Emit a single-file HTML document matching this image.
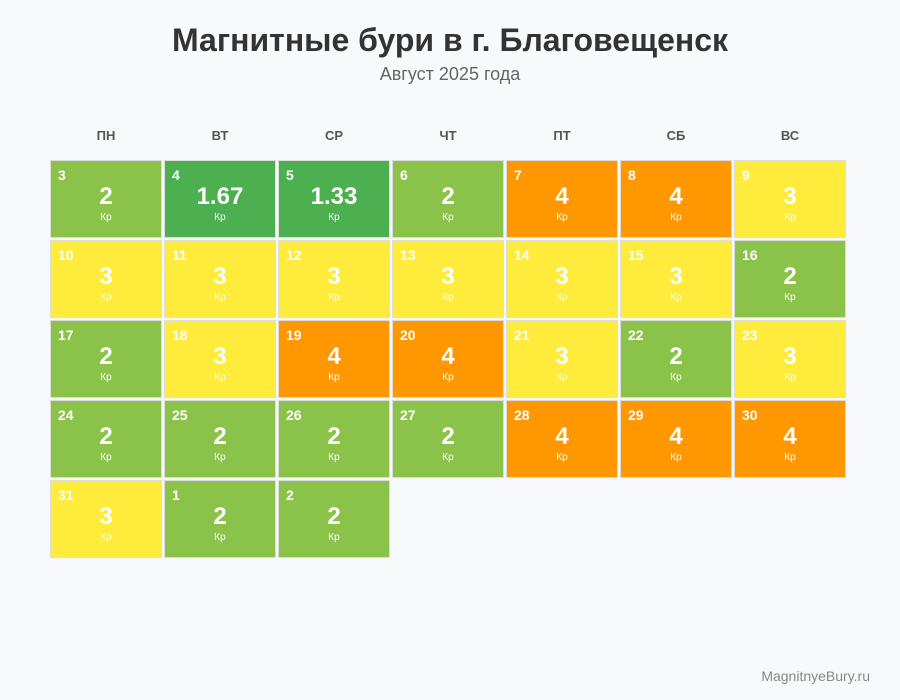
<!DOCTYPE html>
<html><head><meta charset="utf-8"><style>
body{margin:0;width:900px;height:700px;background:#f8f9fb;font-family:"Liberation Sans",sans-serif;position:relative;overflow:hidden}
.t{position:absolute;left:0;width:900px;text-align:center}
.h{position:absolute;top:128px;width:112px;text-align:center;font-size:13px;font-weight:bold;color:#555}
.c{position:absolute;width:110px;height:76px;border:1px solid #ddd;color:#fff}
.d{position:absolute;left:7px;top:6px;font-size:14px;font-weight:bold}
.v{position:absolute;left:0;right:0;top:22px;text-align:center;font-size:24px;font-weight:bold}
.k{position:absolute;left:0;right:0;top:51px;text-align:center;font-size:10px}
.g{background:#8bc34a}.G{background:#4caf50}.o{background:#ff9800}.y{background:#ffeb3b}
</style></head><body>
<div class="t" style="top:22px;font-size:32px;font-weight:bold;color:#333">Магнитные бури в г. Благовещенск</div>
<div class="t" style="top:64px;font-size:18px;color:#666">Август 2025 года</div>
<div id="hd"></div><div id="g"></div>
<div style="position:absolute;right:30px;top:668px;font-size:14px;color:#888">MagnitnyeBury.ru</div>
<script>
var hs=["ПН","ВТ","СР","ЧТ","ПТ","СБ","ВС"],h="";
hs.forEach(function(s,i){h+='<div class="h" style="left:'+(50+i*114)+'px">'+s+'</div>'});
document.getElementById("hd").innerHTML=h;
var d=[[3,"2","g"],[4,"1.67","G"],[5,"1.33","G"],[6,"2","g"],[7,"4","o"],[8,"4","o"],[9,"3","y"],
[10,"3","y"],[11,"3","y"],[12,"3","y"],[13,"3","y"],[14,"3","y"],[15,"3","y"],[16,"2","g"],
[17,"2","g"],[18,"3","y"],[19,"4","o"],[20,"4","o"],[21,"3","y"],[22,"2","g"],[23,"3","y"],
[24,"2","g"],[25,"2","g"],[26,"2","g"],[27,"2","g"],[28,"4","o"],[29,"4","o"],[30,"4","o"],
[31,"3","y"],[1,"2","g"],[2,"2","g"]],s="";
d.forEach(function(e,i){var c=i%7,r=Math.floor(i/7);
s+='<div class="c '+e[2]+'" style="left:'+(50+c*114)+'px;top:'+(160+r*80)+'px"><div class="d">'+e[0]+'</div><div class="v">'+e[1]+'</div><div class="k">Кр</div></div>'});
document.getElementById("g").innerHTML=s;
</script>
</body></html>
